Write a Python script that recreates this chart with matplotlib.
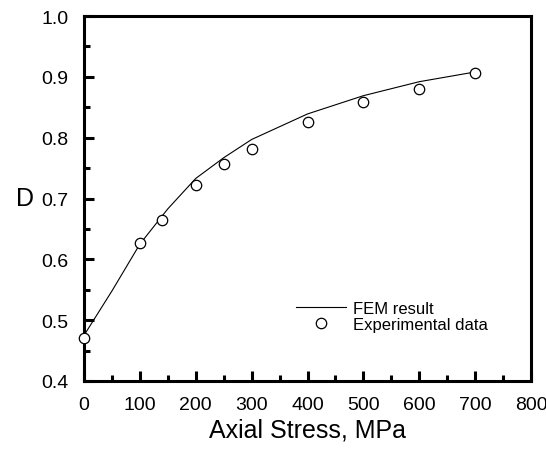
import matplotlib
matplotlib.use("Agg")
import matplotlib.pyplot as plt
from matplotlib.ticker import MultipleLocator

plt.rcParams['font.family'] = ['Liberation Sans', 'DejaVu Sans']

# FEM result (line)
fem_stress = [0, 50, 100, 150, 200, 250, 300, 400, 500, 600, 700]
fem_d = [0.475, 0.548, 0.625, 0.683, 0.733, 0.767, 0.797, 0.839, 0.869, 0.892, 0.908]

# Experimental data (circles)
exp_stress = [0, 100, 140, 200, 250, 300, 400, 500, 600, 700]
exp_d = [0.470, 0.627, 0.665, 0.723, 0.757, 0.782, 0.825, 0.858, 0.880, 0.906]

xticks = [0, 100, 200, 300, 400, 500, 600, 700, 800]
yticks = [0.4, 0.5, 0.6, 0.7, 0.8, 0.9, 1.0]

fig = plt.figure(figsize=(5.46, 4.52), dpi=100)
ax = fig.add_axes([84/546, 1-382/452, (531-84)/546, (382-17)/452])

ax.plot(fem_stress, fem_d, color='black', lw=0.8, label='FEM result')
ax.plot(exp_stress, exp_d, linestyle='none', marker='o', mfc='white', mec='black',
        mew=0.9, ms=7.5, label='Experimental data', clip_on=False, zorder=5)

ax.set_xlim(0, 800)
ax.set_ylim(0.4, 1.0)
ax.set_xticks(xticks)
ax.set_yticks(yticks)
ax.set_yticklabels([f"{v:.1f}" for v in yticks])
ax.xaxis.set_minor_locator(MultipleLocator(50))
ax.yaxis.set_minor_locator(MultipleLocator(0.05))

for s in ax.spines.values():
    s.set_linewidth(2.2)

ax.tick_params(which='both', direction='in', top=False, right=False, labelsize=14)
ax.tick_params(which='major', length=7, width=2.2)
ax.tick_params(which='minor', length=4.5, width=2.2)
ax.tick_params(axis='y', which='major', pad=11)
ax.tick_params(axis='x', which='major', pad=11)

ax.set_xlabel('Axial Stress, MPa', fontsize=18, labelpad=3)
ax.set_ylabel('D', fontsize=18, rotation=0, labelpad=12, va='center')

ax.legend(loc='center left', bbox_to_anchor=(0.46, 0.177), frameon=False,
          fontsize=12, handlelength=3.0, handletextpad=0.4, labelspacing=0.1,
          borderaxespad=0)

fig.savefig('out.png', dpi=100)
